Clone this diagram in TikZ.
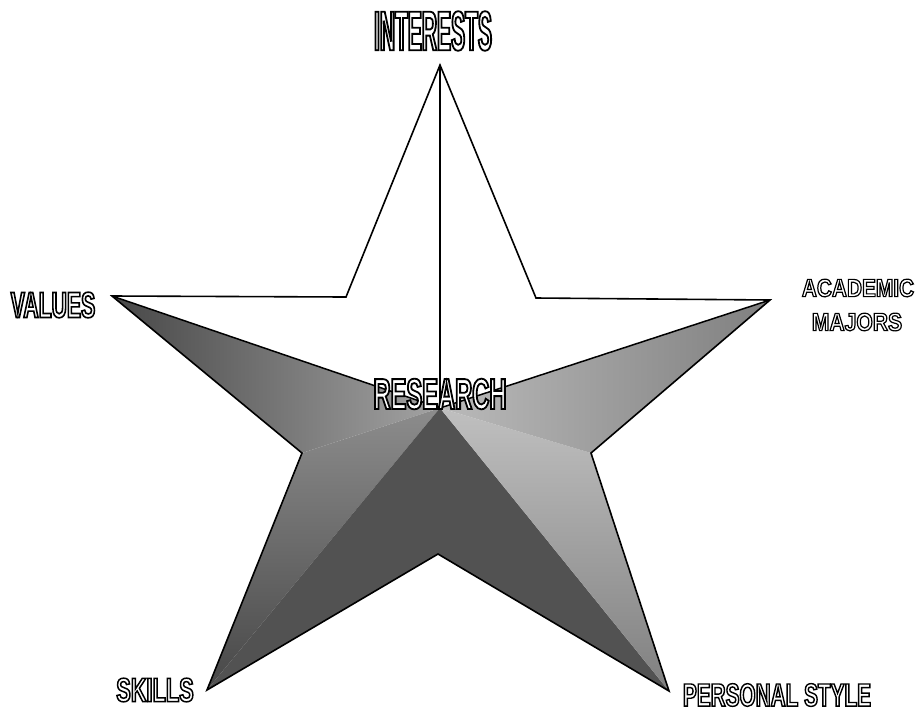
\documentclass[tikz,border=0pt]{standalone}
\usepackage{fontspec}
\setmainfont{Liberation Sans}
\begin{document}
\begin{tikzpicture}[x=1pt,y=-1pt,
  edge/.style={line width=1.6pt,line join=miter,miter limit=20},
  ridge/.style={line width=1.5pt},
  lab/.style={inner sep=0pt}]
\newcommand{\olab}[4]{{\fontspec{Liberation Sans}[FakeStretch=#1]\bfseries\fontsize{#2}{#2}\selectfont\color{white}\special{pdf:literal direct 0 G 2 Tr #4 w}#3\special{pdf:literal direct 0 Tr}}}
\useasboundingbox (0,0) rectangle (919,713);
% star vertices
\coordinate (T) at (440,65);
\coordinate (L) at (112,296);
\coordinate (R) at (770,300);
\coordinate (BL) at (207,690);
\coordinate (BR) at (669,691);
\coordinate (IUL) at (346,297);
\coordinate (IUR) at (536,298);
\coordinate (ILL) at (302,453);
\coordinate (ILR) at (591,453);
\coordinate (IB) at (438,554);
\coordinate (C) at (440,408);
% faces
\shade[left color=black!72,right color=black!36] (C) -- (L) -- (ILL) -- cycle;
\shade[top color=black!45,bottom color=black!72] (C) -- (ILL) -- (BL) -- cycle;
\fill[black!68] (C) -- (BL) -- (IB) -- (BR) -- cycle;
\shade[top color=black!25,bottom color=black!50] (C) -- (ILR) -- (BR) -- cycle;
\shade[left color=black!27,right color=black!50] (C) -- (ILR) -- (R) -- cycle;
% outline and ridges
\draw[edge] (L) -- (IUL) -- (T) -- (IUR) -- (R) -- (ILR) -- (BR) -- (IB) -- (BL) -- (ILL) -- cycle;
\draw[ridge] (T) -- (C);
\draw[ridge] (L) -- (C) -- (R);
% labels
\node[lab] (interests) at (433,31) {\olab{0.376}{55.9}{INTERESTS}{1.8}};
\node[lab] (values) at (53,305) {\olab{0.585}{36.3}{VALUES}{1.6}};
\node[lab] (academic) at (858,288) {\olab{0.83}{25.1}{ACADEMIC}{1.2}};
\node[lab] (majors) at (857,322) {\olab{0.84}{25.1}{MAJORS}{1.2}};
\node[lab] (research) at (440,394) {\olab{0.547}{43.3}{RESEARCH}{1.8}};
\node[lab] (skills) at (155,690) {\olab{0.65}{33.5}{SKILLS}{1.5}};
\node[lab] (personal) at (777,695) {\olab{0.647}{32.1}{PERSONAL STYLE}{1.4}};
\end{tikzpicture}
\end{document}
